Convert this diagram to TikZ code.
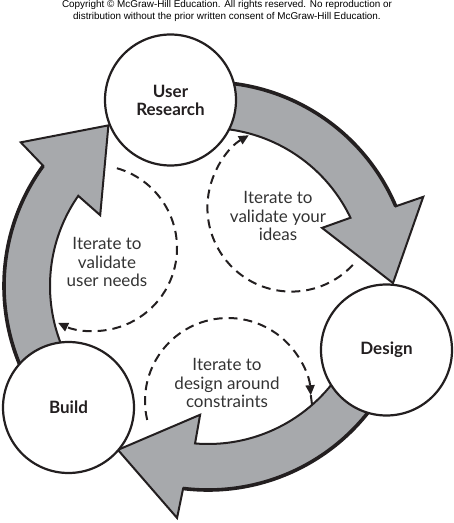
\documentclass[tikz,border=0pt]{standalone}
\usepackage{fontspec}
\setmainfont{Lato}
\newfontfamily\notefont{Liberation Sans}
\usetikzlibrary{arrows.meta, calc}
\definecolor{ringgray}{HTML}{A7A9AC}
\definecolor{inkdark}{HTML}{231F20}
\definecolor{notegray}{HTML}{333333}

\begin{document}
\begin{tikzpicture}[x=1pt, y=1pt,
    stage/.style={circle, draw=inkdark, line width=2.2pt, fill=white, minimum size=131pt, inner sep=0pt, font=\bfseries\fontsize{17}{18}\selectfont, align=center, text=inkdark},
    loopnote/.style={font=\fontsize{17}{18.5}\selectfont, align=center, text=notegray},
    loopline/.style={draw=inkdark, line width=2pt, dash pattern=on 9pt off 6pt, -{Triangle[length=10pt, width=9pt]}},
    ringarrow/.style={fill=ringgray, draw=inkdark, line width=2pt, line join=miter},
    ringedge/.style={draw=inkdark, line width=3.6pt},
]
\useasboundingbox (0,0) rectangle (454,523);
\coordinate (O) at (208,237);

% the big cycle: research -> design -> build -> research
\draw[ringarrow] ($(O)+(100:204)$) arc[start angle=100, end angle=23, radius=204]
    -- ($(O)+(22.5:233)$) -- ($(O)+(0.9:185)$) -- ($(O)+(27:128)$) -- ($(O)+(25.6:158)$)
    arc[start angle=25.6, end angle=100, radius=158] -- cycle;
\draw[ringedge] ($(O)+(100:204)$) arc[start angle=100, end angle=23, radius=204];

\draw[ringarrow] ($(O)+(-20:204)$) arc[start angle=-20, end angle=-97, radius=204]
    -- ($(O)+(-97.6:234)$) -- ($(O)+(-118.8:187)$) -- ($(O)+(-93.5:129)$) -- ($(O)+(-94.7:158)$)
    arc[start angle=-94.7, end angle=-20, radius=158] -- cycle;
\draw[ringedge] ($(O)+(-20:204)$) arc[start angle=-20, end angle=-97, radius=204];

\draw[ringarrow] ($(O)+(221:204)$) arc[start angle=221, end angle=143.9, radius=204]
    -- ($(O)+(142.5:236)$) -- ($(O)+(121.8:189)$) -- ($(O)+(146.7:129)$) -- ($(O)+(145.2:158)$)
    arc[start angle=145.2, end angle=221, radius=158] -- cycle;
\draw[ringedge] ($(O)+(221:204)$) arc[start angle=221, end angle=143.9, radius=204];

% stages
\node[stage] (research) at (170.5,423) {User\\Research};
\node[stage] (design) at (386.5,173) {Design};
\node[stage] (build) at (68.5,115.5) {Build};

% inner loops
\coordinate (ideas) at (291.4,315.4);
\draw[loopline] ($(ideas)+(-43:84)$) arc[start angle=-43, end angle=-239.5, radius=84];
\node[loopnote] (ideasnote) at (278,307) {Iterate to\\validate your\\ideas};

\coordinate (needs) at (94,275);
\draw[loopline] ($(needs)+(74:83)$) arc[start angle=74, end angle=-115.6, radius=83];
\node[loopnote] (needsnote) at (107,261) {Iterate to\\validate\\user needs};

\coordinate (limits) at (228,122);
\draw[loopline] ($(limits)+(193.2:83)$) arc[start angle=193.2, end angle=4, radius=83];
\draw[draw=inkdark, line width=2pt] ($(limits)+(4:83)$) -- ($(O)+(-48.8:158)$);
\node[loopnote] (limitsnote) at (227,140) {Iterate to\\design around\\constraints};

\node[font=\notefont\fontsize{9.9}{12}\selectfont, align=center] (notice) at (227,512)
    {Copyright © McGraw-Hill Education. All rights reserved. No reproduction or\\distribution without the prior written consent of McGraw-Hill Education.};
\end{tikzpicture}
\end{document}
